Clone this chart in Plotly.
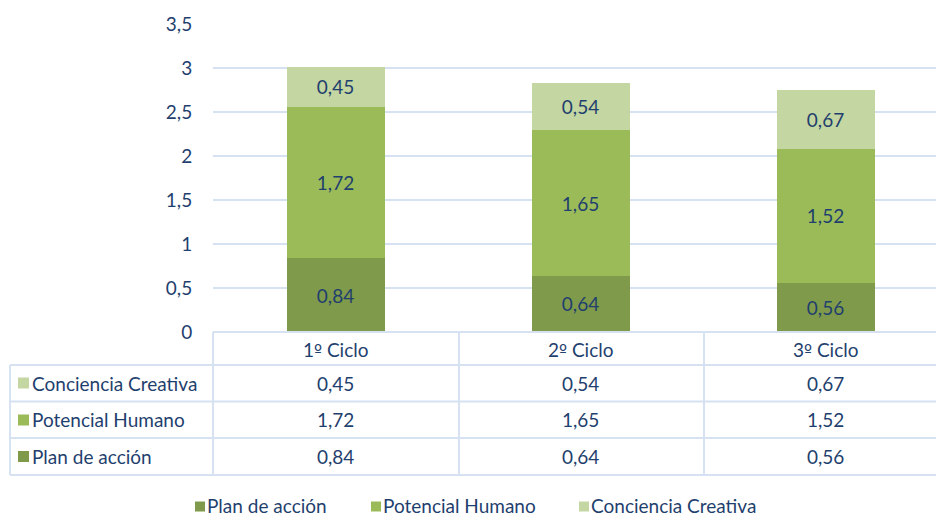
import plotly.graph_objects as go

categories = ["1º Ciclo", "2º Ciclo", "3º Ciclo"]
plan_accion = [0.84, 0.64, 0.56]
potencial_humano = [1.72, 1.65, 1.52]
conciencia_creativa = [0.45, 0.54, 0.67]
y_ticks = [0, 0.5, 1, 1.5, 2, 2.5, 3, 3.5]

series = [
    ("Plan de acción", plan_accion, "#7F9A4A"),
    ("Potencial Humano", potencial_humano, "#9BBB59"),
    ("Conciencia Creativa", conciencia_creativa, "#C4D6A2"),
]

W, H = 936, 518
L, R, T, B = 213, 0, 24, 186
PW, PH = W - L - R, H - T - B
TXT = "#1F3F6E"
GRID = "#D6E2F2"
FONT = "Lato"
FS = 19


def px(xp):
    return (xp - L) / PW


def py(yp):
    return (H - B - yp) / PH


def fmt(v):
    return f"{v:.2f}".replace(".", ",")


def label(s):
    return s.replace("º", "<span style='font-family:DejaVu Sans;font-size:17px'>º</span>")


fig = go.Figure()
for name, vals, col in series:
    fig.add_trace(go.Bar(
        x=categories, y=vals, name=name, marker=dict(color=col, line=dict(width=0)),
        text=[fmt(v) for v in vals], textposition="inside", insidetextanchor="middle",
        textfont=dict(color=TXT, size=FS, family=FONT), cliponaxis=False, showlegend=False,
    ))

shapes = []
line = dict(color=GRID, width=2)
shapes.append(dict(type="line", xref="paper", yref="paper", x0=px(213), x1=1, y0=py(332), y1=py(332), line=line))
for yy in [365, 401.5, 438, 475]:
    shapes.append(dict(type="line", xref="paper", yref="paper", x0=px(10), x1=1, y0=py(yy), y1=py(yy), line=line))
shapes.append(dict(type="line", xref="paper", yref="paper", x0=px(10), x1=px(10), y0=py(365), y1=py(475), line=line))
for xx in [213, 459, 704]:
    shapes.append(dict(type="line", xref="paper", yref="paper", x0=px(xx), x1=px(xx), y0=py(332), y1=py(475), line=line))

annotations = []
row_y = [383, 420, 456.5]
table_rows = [series[2], series[1], series[0]]
for (name, vals, col), yc in zip(table_rows, row_y):
    shapes.append(dict(type="rect", xref="paper", yref="paper", x0=px(18), x1=px(29),
                       y0=py(yc - 5.5), y1=py(yc + 5.5), fillcolor=col, line=dict(width=0)))
    annotations.append(dict(xref="paper", yref="paper", x=px(30), y=py(yc), text=name, showarrow=False,
                            xanchor="left", yanchor="middle", font=dict(color=TXT, size=FS, family=FONT)))
    for c, v in zip(categories, vals):
        annotations.append(dict(xref="x", yref="paper", x=c, y=py(yc), text=fmt(v), showarrow=False,
                                xanchor="center", yanchor="middle", font=dict(color=TXT, size=FS, family=FONT)))
for c in categories:
    annotations.append(dict(xref="x", yref="paper", x=c, y=py(349), text=label(c), showarrow=False,
                            xanchor="center", yanchor="middle", font=dict(color=TXT, size=FS, family=FONT)))

# bottom legend (square + label), matching the reference spacing
legend_x = [206, 382, 590]
legend_y = 505.5
for (name, vals, col), lx in zip(series, legend_x):
    shapes.append(dict(type="rect", xref="paper", yref="paper", x0=px(lx - 11), x1=px(lx - 1),
                       y0=py(legend_y - 4), y1=py(legend_y + 6), fillcolor=col, line=dict(width=0)))
    annotations.append(dict(xref="paper", yref="paper", x=px(lx), y=py(legend_y), text=name, showarrow=False,
                            xanchor="left", yanchor="middle", borderpad=0,
                            font=dict(color=TXT, size=FS, family=FONT)))

fig.update_layout(
    width=W, height=H,
    margin=dict(l=L, r=R, t=T, b=B, pad=0, autoexpand=False),
    barmode="stack", bargap=0.6,
    separators=",.",
    plot_bgcolor="white", paper_bgcolor="white",
    font=dict(family=FONT, color=TXT, size=FS),
    showlegend=False,
    shapes=shapes, annotations=annotations,
)
fig.update_xaxes(range=[-0.5, -0.5 + PW / 245.0], showticklabels=False, showgrid=False,
                 zeroline=False, showline=False, ticks="")
fig.update_yaxes(range=[0, 3.5], tickvals=y_ticks, tickformat="~g", showgrid=True, gridcolor=GRID,
                 gridwidth=2, zeroline=False, showline=False, ticks="outside", ticklen=16,
                 tickcolor="rgba(0,0,0,0)", tickfont=dict(size=FS, color=TXT, family=FONT))

fig.write_html(
    "out.html",
    config={"displayModeBar": False},
    post_script="document.body.style.margin='0';",
)
